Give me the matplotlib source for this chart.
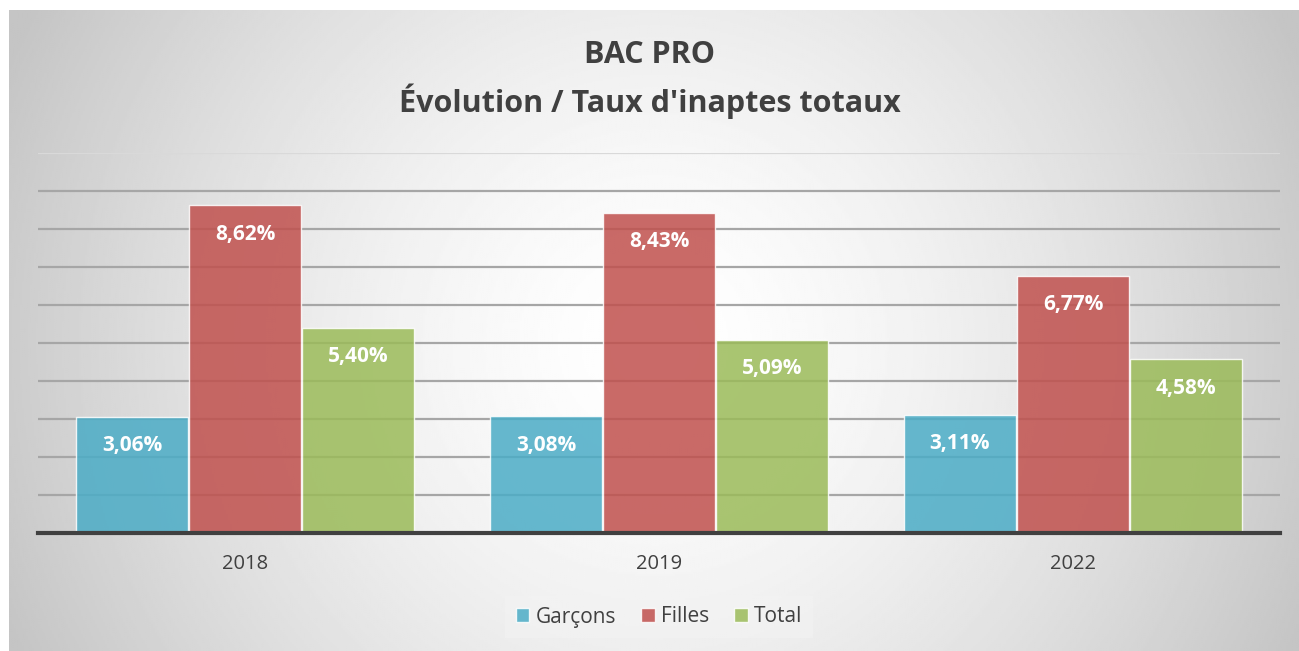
import numpy as np
import matplotlib
matplotlib.use("Agg")
import matplotlib.pyplot as plt

# data
years = ["2018", "2019", "2022"]
series = ["Garçons", "Filles", "Total"]
garcons = [3.06, 3.08, 3.11]
filles = [8.62, 8.43, 6.77]
total = [5.40, 5.09, 4.58]
colors = ["#4bacc6", "#c0504d", "#9bbb59"]

plt.rcParams["font.family"] = ["Open Sans", "DejaVu Sans"]

W, H = 1299, 651
fig = plt.figure(figsize=(W / 100, H / 100), dpi=100)

# radial grey background
bg = fig.add_axes([9 / W, 0, 1 - 9 / W, 1 - 10 / H])
ny, nx = 320, 640
yy, xx = np.mgrid[0:ny, 0:nx]
cx, cy = nx * 0.5, ny * 0.52
d = np.hypot((xx - cx) / (nx * 0.55), (yy - cy) / (nx * 0.55))
shade = 1.0 - 0.23 * np.clip(d, 0, 1) ** 1.5
bg.imshow(shade, cmap="gray", vmin=0, vmax=1, aspect="auto", extent=[0, 1, 0, 1])
bg.axis("off")

ax = fig.add_axes([38 / W, 1 - 533 / H, (1280 - 38) / W, 380 / H])
ax.patch.set_alpha(0)

x = np.arange(len(years))
width = 0.273
for i, (name, vals) in enumerate(zip(series, [garcons, filles, total])):
    pos = x + (i - 1) * width
    bars = ax.bar(pos, vals, width * 0.99, color=colors[i], alpha=0.85,
                  edgecolor=(1, 1, 1, 0.5), linewidth=1, label=name, zorder=3)
    for b, v in zip(bars, vals):
        ax.annotate(f"{v:.2f}%".replace(".", ","),
                    (b.get_x() + b.get_width() / 2, v),
                    xytext=(0, -21), textcoords="offset points",
                    ha="center", va="center", color="white",
                    fontsize=15, fontweight="bold", zorder=4)

ax.set_xlim(-0.5, 2.5)
ax.set_ylim(0, 10)
for yv in range(1, 10):
    ax.axhline(yv, color="#a6a6a6", linewidth=1.6, zorder=0)
ax.axhline(10, color="#d9d9d9", linewidth=1.6, zorder=0)
ax.set_yticks([])
ax.set_xticks(x)
ax.set_xticklabels(years, fontsize=14.5, color="#404040")
ax.tick_params(axis="x", length=0, pad=15)
for s in ["top", "right", "left"]:
    ax.spines[s].set_visible(False)
ax.spines["bottom"].set_color("#404040")
ax.spines["bottom"].set_linewidth(3)
ax.spines["bottom"].set_zorder(5)

fig.text(0.5, 1 - 55 / H, "BAC PRO", ha="center", va="center",
         fontsize=22, fontweight="bold", color="#404040")
fig.text(0.5, 1 - 101 / H, "Évolution / Taux d'inaptes totaux", ha="center",
         va="center", fontsize=22, fontweight="bold", color="#404040")

leg = fig.legend(loc="center", bbox_to_anchor=(659 / W, 1 - 617 / H), ncol=3,
                 fontsize=15, frameon=True, handlelength=0.65, handleheight=0.65,
                 handletextpad=0.3, columnspacing=1.2, borderpad=0.5)
leg.get_frame().set_facecolor("#f4f4f4")
leg.get_frame().set_alpha(0.45)
leg.get_frame().set_edgecolor("none")
leg.get_frame().set_boxstyle("square", pad=0)
for t in leg.get_texts():
    t.set_color("#404040")

fig.savefig("out.png", dpi=100)
